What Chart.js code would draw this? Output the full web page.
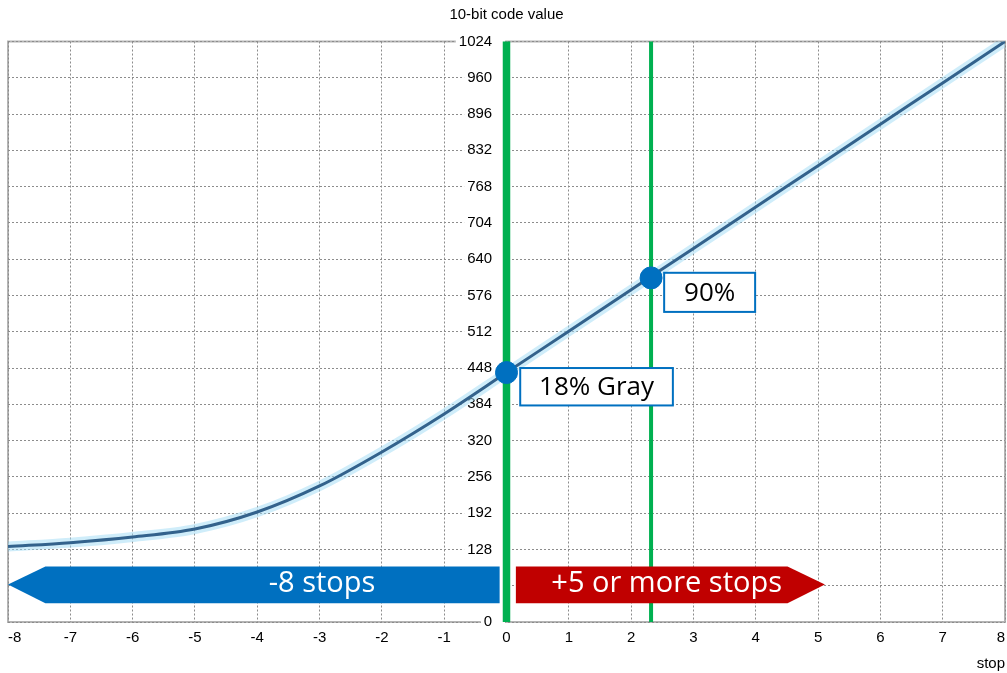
<!DOCTYPE html>
<html>
<head>
<meta charset="utf-8">
<script src="https://cdn.jsdelivr.net/npm/chart.js@4"></script>
<style>
  body { margin: 0; background: #fff; }
  #wrap { width: 1007px; height: 673px; }
</style>
</head>
<body>
<div id="wrap"><canvas id="curveChart"></canvas></div>
<script>
// exposure (stops) vs 10-bit code value
const stops = [-8, -7, -6, -5, -4, -3, -2, -1, 0, 1, 2, 3, 4, 5, 6, 7, 8];
const codeValues = [133, 140, 150, 164, 194, 240, 300, 367, 440, 513, 586, 659, 732, 805, 878, 951, 1024];

// reference points
const markerStops = [0, 2.32];
const markerValues = [440, 607];
const markerLabels = ['18% Gray', '90%'];

// range arrows (in data units)
const rangeLabels = ['-8 stops', '+5 or more stops'];
const rangeTips = [-8, 5.11];
const rangeTails = [-0.11, 0.15];

const GREEN = '#00b050';
const BLUE = '#0070c0';
const RED = '#c00000';
const FRAME = '#b4b4b4';

const overlays = {
    id: 'overlays',
    beforeDraw(chart) {
        const { ctx, chartArea: a } = chart;
        ctx.save();
        ctx.strokeStyle = FRAME;
        ctx.lineWidth = 2;
        ctx.strokeRect(a.left, a.top, a.right - a.left, a.bottom - a.top);
        ctx.restore();
    },
    beforeDatasetsDraw(chart) {
        const { ctx, chartArea: a, scales: { x } } = chart;
        ctx.save();
        ctx.strokeStyle = GREEN;
        // 18% gray guide (thick) and 90% guide (thin)
        [[markerStops[0], 7.5], [markerStops[1], 4]].forEach(([s, w]) => {
            const px = x.getPixelForValue(s);
            ctx.lineWidth = w;
            ctx.beginPath();
            ctx.moveTo(px, a.top);
            ctx.lineTo(px, a.bottom);
            ctx.stroke();
        });
        ctx.restore();
    },
    afterDatasetsDraw(chart) {
        const { ctx, scales: { x, y } } = chart;
        ctx.save();

        // arrows
        const yTop = y.getPixelForValue(98);
        const yBot = y.getPixelForValue(33);
        const yMid = y.getPixelForValue(66);
        const headLen = 0.6;
        rangeLabels.forEach((label, i) => {
            const dir = rangeTips[i] < rangeTails[i] ? -1 : 1;
            const tail = x.getPixelForValue(rangeTails[i]);
            const tip = x.getPixelForValue(rangeTips[i]);
            const base = x.getPixelForValue(rangeTips[i] - dir * headLen);
            ctx.fillStyle = i === 0 ? BLUE : RED;
            ctx.beginPath();
            ctx.moveTo(tail, yTop);
            ctx.lineTo(base, yTop);
            ctx.lineTo(tip, yMid);
            ctx.lineTo(base, yBot);
            ctx.lineTo(tail, yBot);
            ctx.closePath();
            ctx.fill();
        });
        ctx.fillStyle = '#fff';
        ctx.font = '29px "Open Sans"';
        ctx.textAlign = 'center';
        ctx.textBaseline = 'middle';
        ctx.fillText(rangeLabels[0], x.getPixelForValue(-2.96), y.getPixelForValue(67));
        ctx.fillText(rangeLabels[1], x.getPixelForValue(2.57), y.getPixelForValue(67));

        // marker label boxes
        const boxes = [[0.22, 2.67, 448, 382], [2.53, 3.99, 616, 547]];
        ctx.font = '26px "Open Sans"';
        boxes.forEach(([x0, x1, v0, v1], i) => {
            const l = x.getPixelForValue(x0), r = x.getPixelForValue(x1);
            const t = y.getPixelForValue(v0), b = y.getPixelForValue(v1);
            ctx.fillStyle = '#fff';
            ctx.fillRect(l, t, r - l, b - t);
            ctx.strokeStyle = BLUE;
            ctx.lineWidth = 2;
            ctx.strokeRect(l, t, r - l, b - t);
            ctx.fillStyle = '#000';
            ctx.fillText(markerLabels[i], (l + r) / 2, (t + b) / 2 + 1);
        });
        ctx.restore();
    }
};

const curve = stops.map((s, i) => ({ x: s, y: codeValues[i] }));

new Chart(document.getElementById('curveChart'), {
    type: 'scatter',
    data: {
        datasets: [
            {
                type: 'line',
                data: curve,
                borderColor: 'rgba(160, 220, 245, 0.5)',
                borderWidth: 10,
                pointRadius: 0,
                cubicInterpolationMode: 'monotone',
                order: 3
            },
            {
                type: 'line',
                data: curve,
                borderColor: '#33628c',
                borderWidth: 3,
                pointRadius: 0,
                cubicInterpolationMode: 'monotone',
                order: 2
            },
            {
                data: markerStops.map((s, i) => ({ x: s, y: markerValues[i] })),
                backgroundColor: BLUE,
                borderColor: BLUE,
                pointRadius: 11,
                order: 1
            }
        ]
    },
    options: {
        responsive: true,
        maintainAspectRatio: false,
        animation: false,
        layout: { autoPadding: false, padding: { left: 8, right: 2, top: 0, bottom: 0 } },
        plugins: {
            legend: { display: false },
            tooltip: { enabled: false },
            title: {
                display: true,
                text: '10-bit code value',
                color: '#000',
                font: { family: 'Liberation Sans', size: 15, weight: 'normal' },
                padding: { top: 6, bottom: 17.5 }
            }
        },
        scales: {
            x: {
                type: 'linear',
                min: -8,
                max: 8,
                afterFit(scale) {
                    scale.paddingLeft = 0;
                    scale.paddingRight = 0;
                },
                ticks: {
                    stepSize: 1,
                    align: 'inner',
                    padding: 6.5,
                    color: '#000',
                    font: { family: 'Liberation Sans', size: 15 }
                },
                grid: {
                    color: '#8c8c8c',
                    drawTicks: false,
                    z: -2
                },
                border: { display: false, dash: [2, 2] },
                title: {
                    display: true,
                    text: 'stop',
                    align: 'end',
                    color: '#000',
                    font: { family: 'Liberation Sans', size: 15 },
                    padding: { top: 2, bottom: 0 }
                }
            },
            y: {
                type: 'linear',
                // labels sit just left of the 0-stop line
                position: { x: -0.23 },
                min: 0,
                max: 1024,
                ticks: {
                    stepSize: 64,
                    color: '#000',
                    font: { family: 'Liberation Sans', size: 15 },
                    callback: (v) => String(v),
                    showLabelBackdrop: true,
                    backdropColor: '#fff',
                    backdropPadding: { top: 1, bottom: 1, left: 3, right: 13 },
                    z: -1
                },
                grid: {
                    color: '#8c8c8c',
                    drawTicks: false,
                    z: -2
                },
                border: { display: false, dash: [2, 2] }
            }
        }
    },
    plugins: [overlays]
});
</script>
</body>
</html>
